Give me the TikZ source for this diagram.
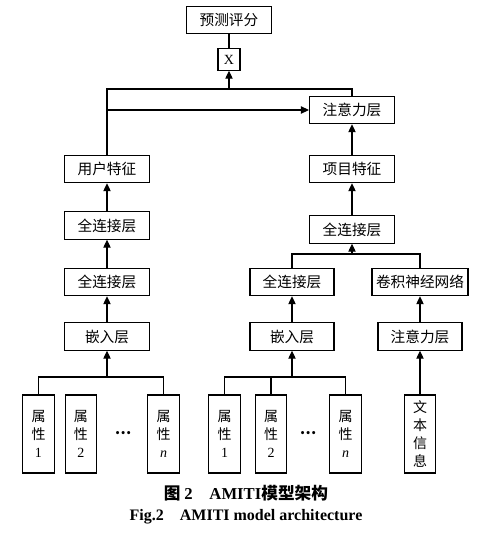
\documentclass[tikz,border=0pt]{standalone}
\usepackage{fontspec}
\setmainfont{Liberation Serif}
\newfontfamily\cjk{Noto Sans CJK SC}
\usepackage{tikz}
\usetikzlibrary{arrows.meta,positioning}

\begin{document}
\begin{tikzpicture}[
    x=0.75pt, y=-0.75pt,
    box/.style={rectangle, draw, line width=0.8pt, minimum width=63.75pt, minimum height=20.5pt, inner sep=0pt, align=center, font=\cjk\fontsize{11}{13}\selectfont},
    attr/.style={rectangle, draw, line width=0.8pt, minimum width=23.5pt, minimum height=58.5pt, inner sep=0pt, align=center, font=\cjk\fontsize{10.5}{13.5}\selectfont},
    dots/.style={font=\cjk\bfseries\fontsize{11}{13}\selectfont},
    arrow/.style={-{Triangle[length=6pt,width=5.5pt]}, line width=0.8pt},
    line/.style={line width=0.8pt}
]
    \useasboundingbox (0,0) rectangle (482,533);

    % output part
    \node[box] (pred) at (229,20) {预测评分};
    \node[box, minimum width=16.5pt, minimum height=16pt, font=\rmfamily\fontsize{10.5}{13}\selectfont] (mul) at (229,59.5) {X};
    \node[box] (att) at (352,110) {注意力层};

    % user side
    \node[box] (user) at (107,169) {用户特征};
    \node[box] (fcuser2) at (107,225.5) {全连接层};
    \node[box] (fcuser1) at (107,282) {全连接层};
    \node[box] (embuser) at (107,336.5) {嵌入层};

    % item side
    \node[box] (item) at (352,169) {项目特征};
    \node[box] (fcitem) at (352,229.5) {全连接层};
    \node[box, minimum width=63pt] (fcattr) at (292,282) {全连接层};
    \node[box, minimum width=72pt] (cnn) at (420,282) {卷积神经网络};
    \node[box, minimum width=63pt] (embitem) at (292,336.5) {嵌入层};
    \node[box, minimum width=63pt] (atttext) at (420,336.5) {注意力层};

    % inputs
    \node[attr] (ua1) at (38.5,434) {属\\性\\{\rmfamily 1}};
    \node[attr] (ua2) at (81,434) {属\\性\\{\rmfamily 2}};
    \node[dots] (udots) at (123,433) {…};
    \node[attr] (uan) at (163.5,434) {属\\性\\{\rmfamily\itshape n}};
    \node[attr] (ia1) at (224.5,434) {属\\性\\{\rmfamily 1}};
    \node[attr] (ia2) at (271,434) {属\\性\\{\rmfamily 2}};
    \node[dots] (idots) at (308,433) {…};
    \node[attr] (ian) at (345.5,434) {属\\性\\{\rmfamily\itshape n}};
    \node[attr] (text) at (420,434) {文\\本\\信\\息};

    % caption
    \node[font=\cjk\bfseries\fontsize{12.5}{14}\selectfont] (cap1) at (246,493) {图\ {\rmfamily 2}\quad{\rmfamily AMITI}模型架构};
    \node[font=\rmfamily\bfseries\fontsize{12}{14}\selectfont] (cap2) at (246,517) {Fig.2\quad AMITI model architecture};

    % joints
    \coordinate (top) at (229,89);
    \coordinate (ujoin) at (user.north |- att.west);
    \coordinate (ijoin) at (352,254);
    \coordinate (ubot) at (107,377);
    \coordinate (ibot) at (292,377);

    \draw[line] (pred) -- (mul);
    \draw[line] (user.north) |- (top) -| (att.north);
    \draw[arrow] (top) -- (mul);
    \draw[arrow] (ujoin) -- (att.west);
    \draw[arrow] (item) -- (att);

    \draw[arrow] (fcuser2) -- (user);
    \draw[arrow] (fcuser1) -- (fcuser2);
    \draw[arrow] (embuser) -- (fcuser1);
    \draw[line] (ua1.north) |- (ubot) -| (uan.north);
    \draw[arrow] (ubot) -- (embuser);

    \draw[arrow] (fcitem) -- (item);
    \draw[line] (fcattr.north) |- (ijoin) -| (cnn.north);
    \draw[arrow] (ijoin) -- (fcitem);
    \draw[arrow] (embitem) -- (fcattr);
    \draw[arrow] (atttext) -- (cnn);
    \draw[arrow] (text) -- (atttext);
    \draw[line] (ia1.north) |- (ibot) -| (ian.north);
    \draw[line] (ia2.north) -- (ia2.north |- ibot);
    \draw[arrow] (ibot) -- (embitem);
\end{tikzpicture}
\end{document}
